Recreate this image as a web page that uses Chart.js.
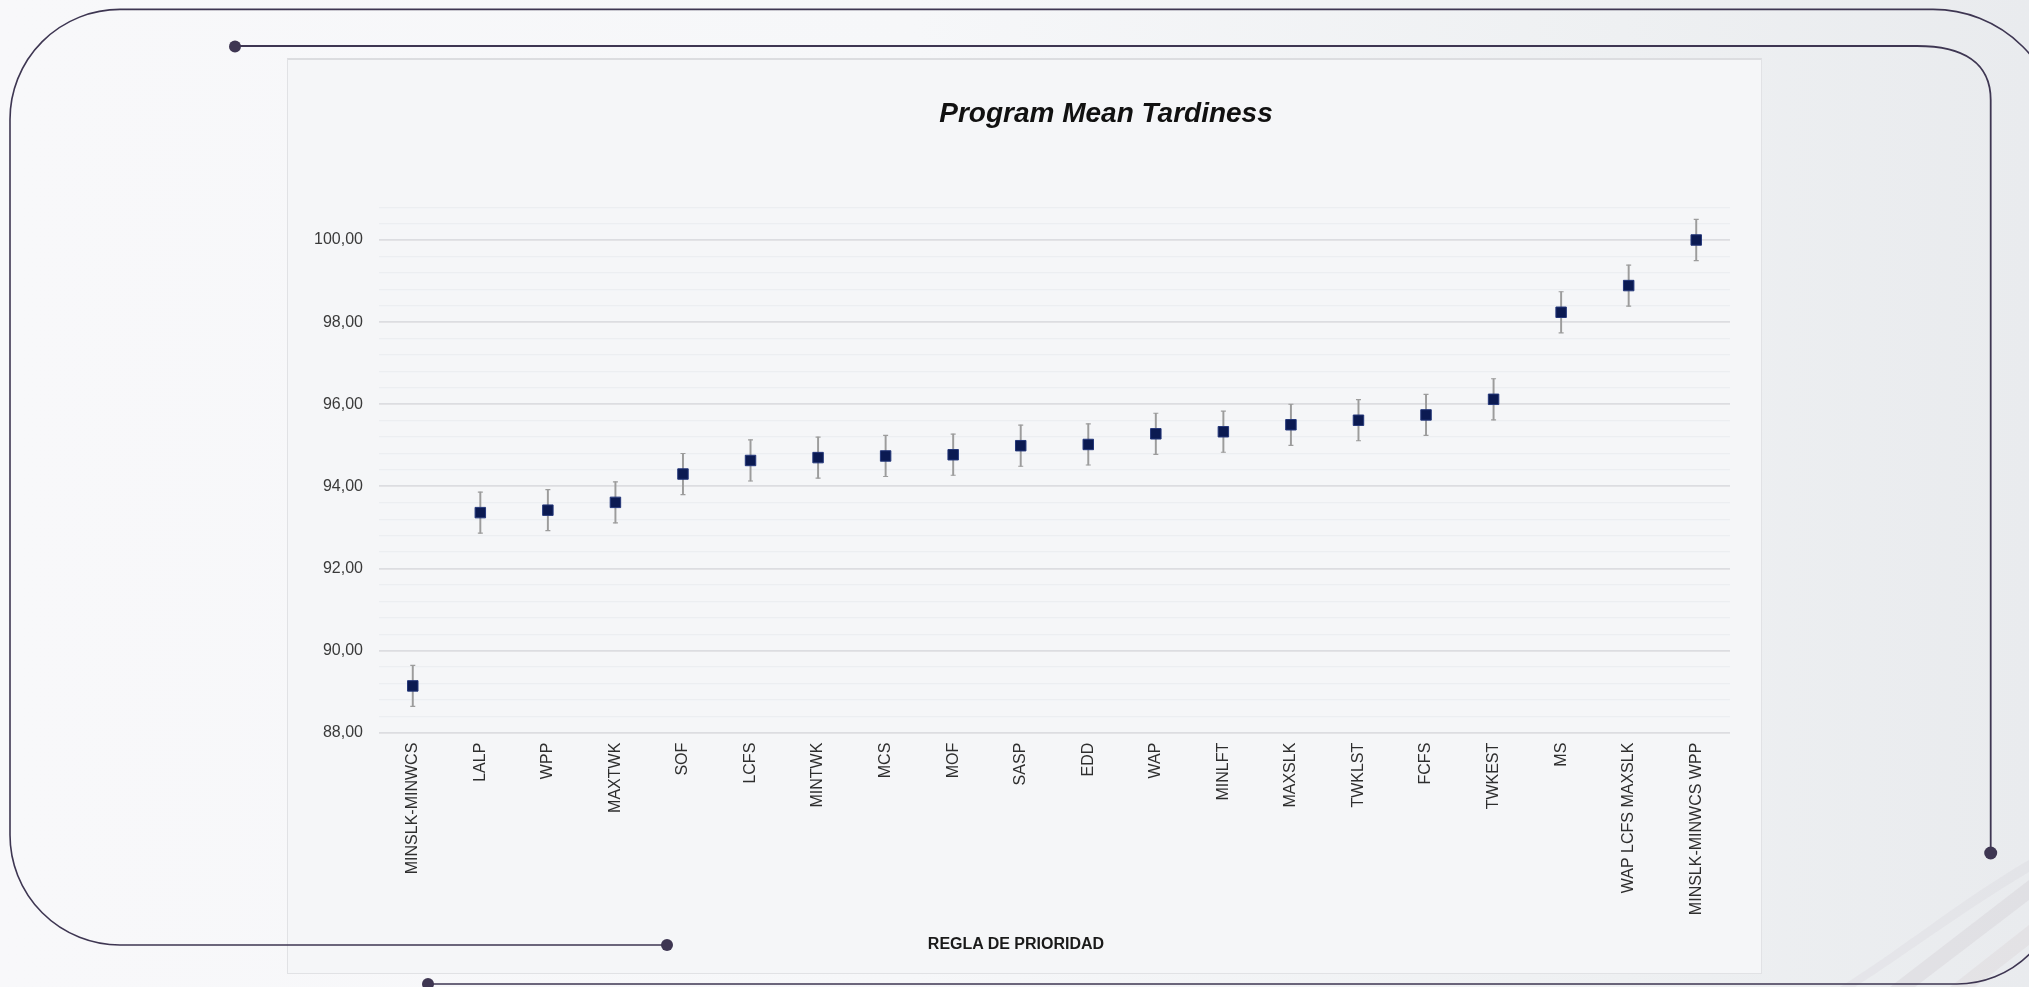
<!DOCTYPE html>
<html>
<head>
<meta charset="utf-8">
<script src="https://cdn.jsdelivr.net/npm/chart.js@4.4.1/dist/chart.umd.min.js"></script>
<style>
  html, body { margin: 0; padding: 0; }
  body {
    width: 2029px; height: 987px; overflow: hidden; position: relative;
    background: linear-gradient(90deg, #f8f8fa 0%, #f6f7f9 45%, #eef0f2 80%, #e9ebee 100%);
    font-family: "Liberation Sans", Arial, sans-serif;
  }
  #deco { position: absolute; left: 0; top: 0; z-index: 2; }
  #panel {
    position: absolute; left: 287px; top: 58px; width: 1475px; height: 916px;
    background: #f5f6f8; border: 1px solid #e1e2e5; border-top: 2px solid #dcdde0;
    box-sizing: border-box; z-index: 1;
  }
  #chart { position: absolute; left: 0; top: 0; z-index: 3; filter: blur(0.35px); }
  .txt { position: absolute; z-index: 4; white-space: nowrap; color: #111; filter: blur(0.3px); }
  #title { left: 1106px; top: 97px; transform: translateX(-50%); font: italic bold 28px "Liberation Sans", Arial, sans-serif; line-height: 32px; }
  #xtitle { left: 1016px; top: 935px; transform: translateX(-50%); font: bold 16px "Liberation Sans", Arial, sans-serif; line-height: 18px; color: #1a1a1a; }
</style>
</head>
<body>
<div id="panel"></div>
<svg id="deco" width="2029" height="987" viewBox="0 0 2029 987">
  <!-- faint swooshes, bottom right -->
  <path d="M1890 987 L2029 880 L2029 900 L1915 987 Z" fill="rgba(205,200,206,0.3)"/>
  <path d="M1950 987 L2029 925 L2029 945 L1975 987 Z" fill="rgba(215,205,210,0.3)"/>
  <path d="M1840 987 C1900 950, 1960 900, 2029 860 L2029 872 C1965 910, 1905 955, 1855 987 Z" fill="rgba(210,208,214,0.25)"/>
  <!-- outer frame -->
  <path d="M428 984 H1957 A103 103 0 0 0 2060 881 V136 A127 127 0 0 0 1933 9.4 H120 A110 110 0 0 0 10 119.4 V835 A110 110 0 0 0 120 945 H667"
        fill="none" stroke="#3e3652" stroke-width="1.6"/>
  <!-- inner frame -->
  <path d="M235 46 H1917 C1962 46, 1990.7 62, 1990.7 100 V852.7" fill="none" stroke="#3e3652" stroke-width="1.8"/>
  <circle cx="428" cy="984" r="6" fill="#3e3652"/>
  <circle cx="667" cy="945" r="6" fill="#3e3652"/>
  <circle cx="235" cy="46.5" r="6" fill="#3e3652"/>
  <circle cx="1990.7" cy="853" r="6.5" fill="#3e3652"/>
</svg>
<canvas id="chart" width="2029" height="987"></canvas>
<div class="txt" id="title">Program Mean Tardiness</div>
<div class="txt" id="xtitle">REGLA DE PRIORIDAD</div>
<script>
// Priority rules on the x axis
const categories = [
  "MINSLK-MINWCS", "LALP", "WPP", "MAXTWK", "SOF", "LCFS", "MINTWK", "MCS", "MOF", "SASP",
  "EDD", "WAP", "MINLFT", "MAXSLK", "TWKLST", "FCFS", "TWKEST", "MS", "WAP LCFS MAXSLK", "MINSLK-MINWCS WPP"
];
// Mean tardiness per rule
const meanTardiness = [
  89.14, 93.36, 93.42, 93.61, 94.30, 94.63, 94.70, 94.74, 94.77, 94.99,
  95.02, 95.28, 95.33, 95.50, 95.61, 95.74, 96.12, 98.24, 98.89, 100.00
];
// Half width of each confidence interval
const halfInterval = [
  0.50, 0.50, 0.50, 0.50, 0.50, 0.50, 0.50, 0.50, 0.50, 0.50,
  0.50, 0.50, 0.50, 0.50, 0.50, 0.50, 0.50, 0.50, 0.50, 0.50
];
// Labelled y ticks (minor grid every 0.4 in between)
const yLabelTicks = [88, 90, 92, 94, 96, 98, 100];
const yMin = 88, yMax = 100.8, yMinorStep = 0.4;

const lower = meanTardiness.map((v, i) => +(v - halfInterval[i]).toFixed(3));
const upper = meanTardiness.map((v, i) => +(v + halfInterval[i]).toFixed(3));
const whiskers = meanTardiness.map((v, i) => [lower[i], upper[i]]);

const isLabelled = v => yLabelTicks.some(t => Math.abs(t - v) < 1e-6);
const fmt = v => v.toFixed(2).replace('.', ',');

const Y_AXIS_WIDTH = 90, X_AXIS_HEIGHT = 200;
const errColor = '#9c9c9c';

new Chart(document.getElementById('chart'), {
  type: 'bar',
  data: {
    labels: categories,
    datasets: [
      {
        type: 'bar', label: 'interval', data: whiskers,
        backgroundColor: errColor, borderWidth: 0, barThickness: 1.3, order: 3
      },
      {
        type: 'line', label: 'lower', data: lower, showLine: false,
        pointStyle: 'line', pointRadius: 2.5, pointBorderColor: errColor, pointBorderWidth: 1.2,
        pointHoverRadius: 2.5, order: 2
      },
      {
        type: 'line', label: 'upper', data: upper, showLine: false,
        pointStyle: 'line', pointRadius: 2.5, pointBorderColor: errColor, pointBorderWidth: 1.2,
        pointHoverRadius: 2.5, order: 2
      },
      {
        type: 'line', label: 'Program Mean Tardiness', data: meanTardiness, showLine: false,
        pointStyle: 'rect', pointRadius: 7.4, pointBackgroundColor: '#0b1a52',
        pointBorderColor: '#24377a', pointBorderWidth: 1, pointHoverRadius: 7.4, order: 0
      }
    ]
  },
  options: {
    responsive: false,
    animation: false,
    devicePixelRatio: 1,
    layout: {
      padding: {
        left: 379 - Y_AXIS_WIDTH,
        right: 2029 - 1730,
        top: 207.15,
        bottom: 987 - 732.7 - X_AXIS_HEIGHT
      }
    },
    plugins: {
      legend: { display: false },
      tooltip: { enabled: false },
      title: { display: false }
    },
    scales: {
      x: {
        type: 'category',
        offset: true,
        grid: { display: false, drawTicks: false },
        border: { display: false },
        afterFit: s => { s.height = X_AXIS_HEIGHT; },
        ticks: {
          autoSkip: false, minRotation: 90, maxRotation: 90, padding: 10,
          color: '#2e2e2e', font: { family: '"Liberation Sans", Arial, sans-serif', size: 16 }
        }
      },
      y: {
        type: 'linear',
        min: yMin, max: yMax,
        afterFit: s => { s.width = Y_AXIS_WIDTH; },
        border: { display: false },
        grid: {
          drawTicks: false,
          color: ctx => isLabelled(ctx.tick.value) ? '#dcdde1' : '#eceef1',
          lineWidth: ctx => isLabelled(ctx.tick.value) ? 1.8 : 1.2
        },
        ticks: {
          autoSkip: false,
          stepSize: yMinorStep,
          padding: 16,
          color: '#3a3a3a',
          font: { family: '"Liberation Sans", Arial, sans-serif', size: 16 },
          callback: v => isLabelled(v) ? fmt(v) : ''
        }
      }
    }
  }
});
</script>
</body>
</html>
